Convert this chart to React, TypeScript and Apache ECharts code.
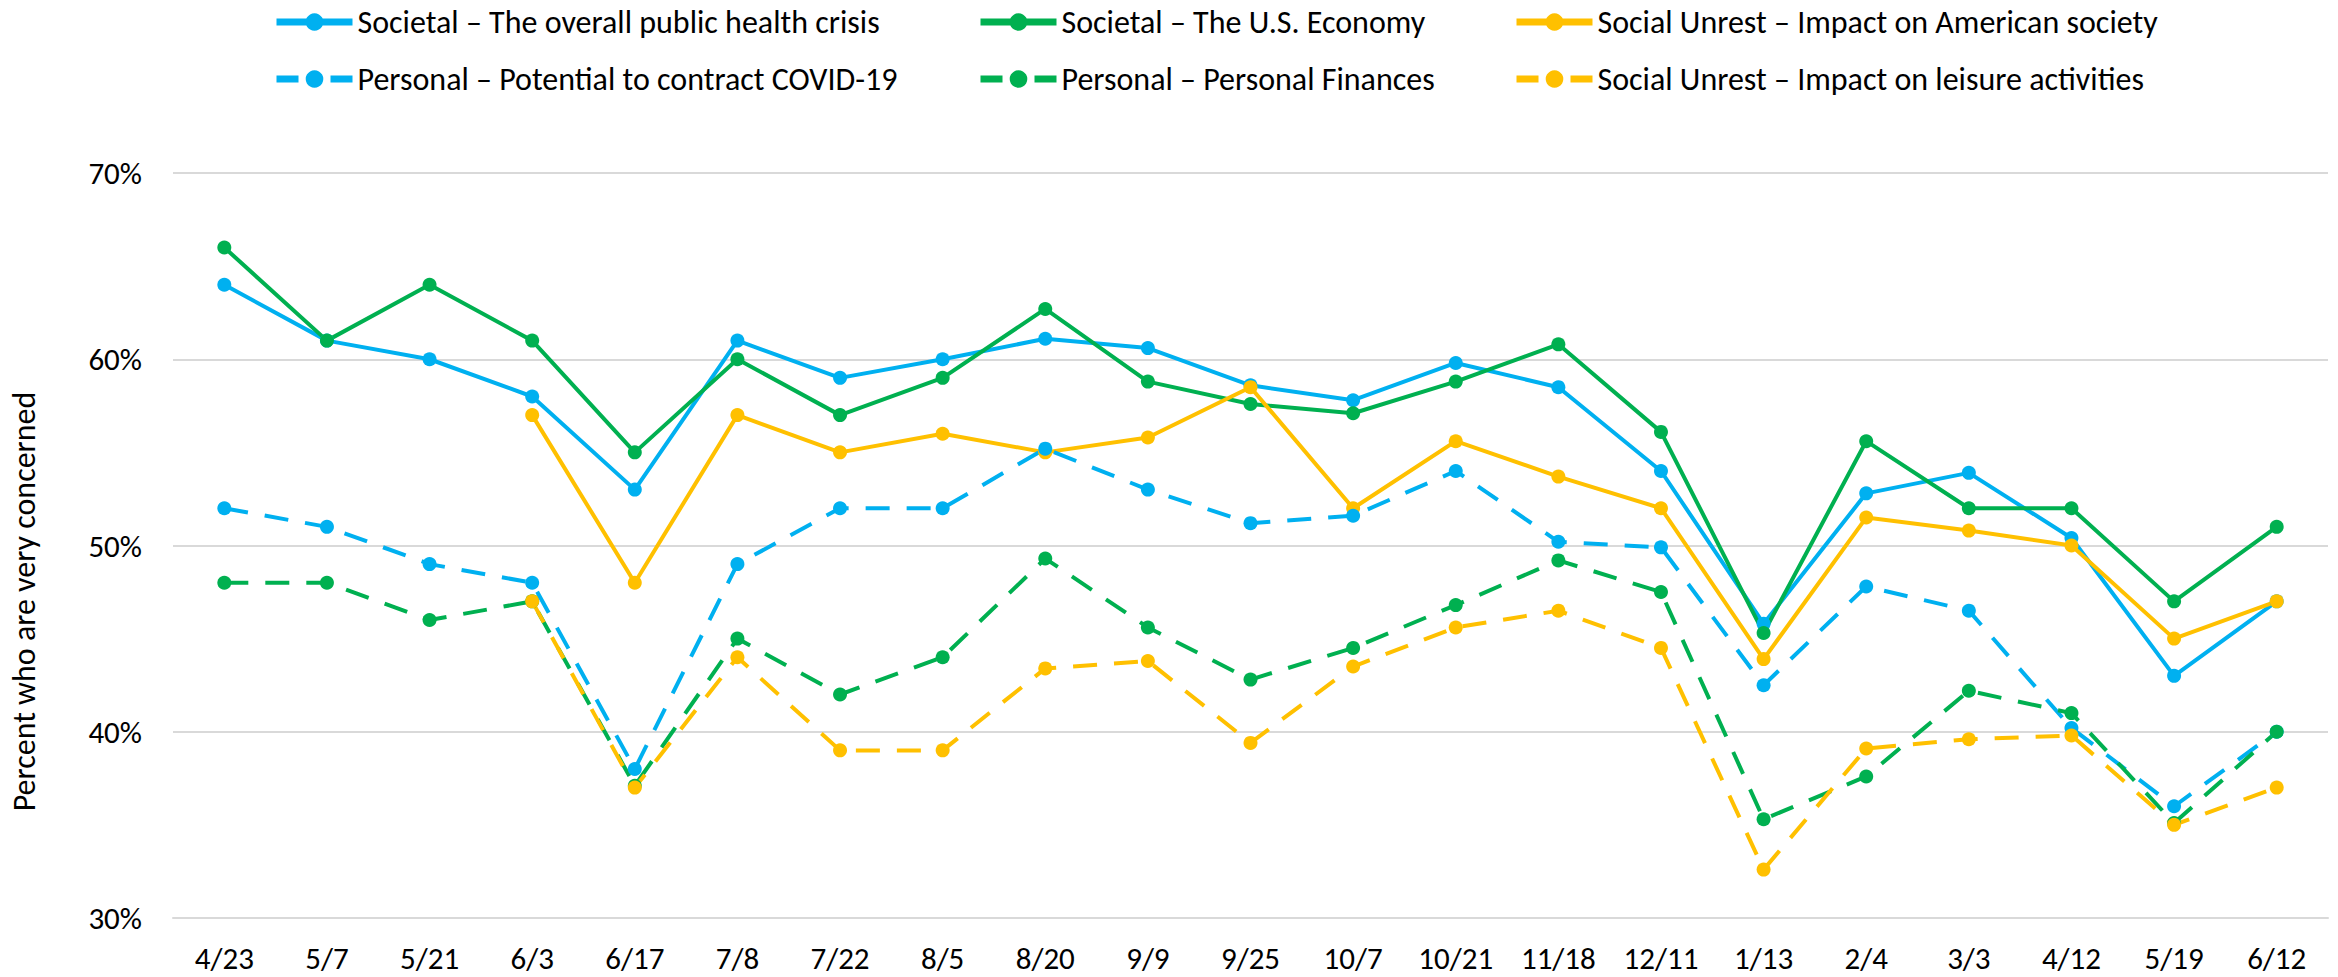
import React, { useEffect, useRef } from "react";
import * as echarts from "echarts";

const categories = ["4/23", "5/7", "5/21", "6/3", "6/17", "7/8", "7/22", "8/5", "8/20", "9/9", "9/25", "10/7", "10/21", "11/18", "12/11", "1/13", "2/4", "3/3", "4/12", "5/19", "6/12"];

const health = [64, 61, 60, 58, 53, 61, 59, 60, 61.1, 60.6, 58.6, 57.8, 59.8, 58.5, 54.0, 45.8, 52.8, 53.9, 50.4, 43.0, 47.0];
const economy = [66, 61, 64, 61, 55, 60, 57, 59, 62.7, 58.8, 57.6, 57.1, 58.8, 60.8, 56.1, 45.3, 55.6, 52, 52, 47, 51];
const american = [null, null, null, 57, 48, 57, 55, 56, 55, 55.8, 58.5, 52, 55.6, 53.7, 52, 43.9, 51.5, 50.8, 50, 45, 47];
const contract = [52, 51, 49, 48, 38, 49, 52, 52, 55.2, 53, 51.2, 51.6, 54, 50.2, 49.9, 42.5, 47.8, 46.5, 40.2, 36, 40];
const finances = [48, 48, 46, 47, 37.1, 45, 42, 44, 49.3, 45.6, 42.8, 44.5, 46.8, 49.2, 47.5, 35.3, 37.6, 42.2, 41, 35.1, 40];
const leisure = [null, null, null, 47, 37, 44, 39, 39, 43.4, 43.8, 39.4, 43.5, 45.6, 46.5, 44.5, 32.6, 39.1, 39.6, 39.8, 35, 37];

const yTicks = { min: 30, max: 70, interval: 10 };

const names = [
  "Societal – The overall public health crisis",
  "Societal – The U.S. Economy",
  "Social Unrest – Impact on American society",
  "Personal – Potential to contract COVID-19",
  "Personal – Personal Finances",
  "Social Unrest – Impact on leisure activities",
];

const BLUE = "#00B0F0";
const GREEN = "#00B050";
const YELLOW = "#FFC000";
const FONT = "Carlito, Lato, 'Noto Sans', sans-serif";

export default function App() {
  const ref = useRef<HTMLDivElement>(null);
  useEffect(() => {
    if (!ref.current) return;
    const chart = echarts.init(ref.current, null, { renderer: "svg" });
    const mk = (name: string, data: any[], color: string, dashed: boolean) => ({
      name,
      type: "line",
      data,
      xAxisIndex: 0,
      symbol: "circle",
      symbolSize: 14,
      connectNulls: false,
      itemStyle: { color },
      lineStyle: { color, width: 4, type: dashed ? [24, 17] : "solid" },
      emphasis: { disabled: true },
    });
    const legendPos = [
      { left: 273, top: 6 },
      { left: 977, top: 6 },
      { left: 1513, top: 6 },
      { left: 273, top: 63 },
      { left: 977, top: 63 },
      { left: 1513, top: 63 },
    ];
    const legends = names.map((n, i) => ({
      data: [n],
      left: legendPos[i].left,
      top: legendPos[i].top,
      padding: 0,
      itemWidth: 76,
      itemHeight: 22,
      itemGap: 10,
      selectedMode: false,
      lineStyle: { width: 7, type: i >= 3 ? [22, 32] : "solid" },
      textStyle: { fontFamily: FONT, fontSize: 32, color: "#000", lineHeight: 32 },
    }));
    const tickStyle = { color: "#D9D9D9", width: 2 };
    chart.setOption({
      animation: false,
      textStyle: { fontFamily: FONT },
      legend: legends,
      grid: { left: 161, right: 10, top: 173, bottom: 59, containLabel: false },
      xAxis: [
        {
          type: "category",
          data: categories,
          boundaryGap: true,
          axisLine: { lineStyle: { color: "#D9D9D9", width: 2 } },
          axisTick: { alignWithLabel: true, length: 7, lineStyle: tickStyle },
          axisLabel: { fontFamily: FONT, fontSize: 31, color: "#000", margin: 24 },
        },
        {
          type: "category",
          data: categories,
          position: "bottom",
          boundaryGap: true,
          axisLine: { show: false },
          axisTick: { alignWithLabel: true, inside: true, length: 7, lineStyle: tickStyle },
          axisLabel: { show: false },
          splitLine: { show: false },
        },
      ],
      yAxis: {
        type: "value",
        min: yTicks.min,
        max: yTicks.max,
        interval: yTicks.interval,
        name: "Percent who are very concerned",
        nameLocation: "middle",
        nameGap: 133,
        nameTextStyle: { fontFamily: FONT, fontSize: 32, color: "#000", padding: [0, 112, 0, 0] },
        axisLine: { show: false },
        axisTick: { show: false },
        axisLabel: { fontFamily: FONT, fontSize: 31, color: "#000", margin: 31, formatter: "{value}%" },
        splitLine: { lineStyle: { color: "#D9D9D9", width: 2 } },
      },
      series: [
        mk(names[0], health, BLUE, false),
        mk(names[1], economy, GREEN, false),
        mk(names[2], american, YELLOW, false),
        mk(names[3], contract, BLUE, true),
        mk(names[4], finances, GREEN, true),
        mk(names[5], leisure, YELLOW, true),
      ],
    });
    return () => chart.dispose();
  }, []);
  return (
    <div
      ref={ref}
      style={{ position: "absolute", left: 0, top: 0, width: 2338, height: 977, background: "#fff" }}
    />
  );
}
